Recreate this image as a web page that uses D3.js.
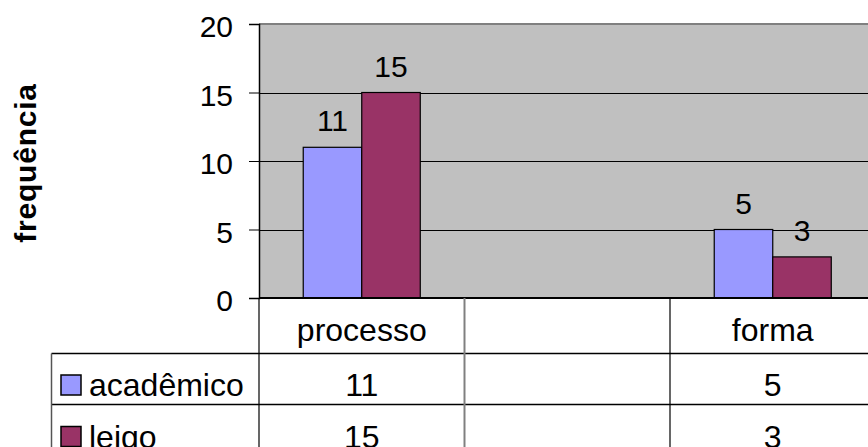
<!DOCTYPE html>
<html>
<head>
<meta charset="utf-8">
<script src="https://cdn.jsdelivr.net/npm/d3@7"></script>
<style>
  html, body { margin: 0; padding: 0; background: #fff; }
  svg { display: block; }
  text { font-family: "Liberation Sans", Arial, sans-serif; fill: #000; }
</style>
</head>
<body>
<script>
// Categories (the middle one is an empty column) and the two series
const categories = ["processo", "", "forma"];
const seriesNames = ["acadêmico", "leigo"];
const academico = [11, null, 5];
const leigo = [15, null, 3];
const seriesColors = ["#9999FF", "#993366"];
const yTicks = [0, 5, 10, 15, 20];
const yTitle = "frequência";

const W = 868, H = 447;
const plot = { left: 259, top: 24, bottom: 298, right: 875.5 };
const tableLeft = 51.5;
const rowLines = [353.5, 404.5];

const svg = d3.select("body").append("svg").attr("width", W).attr("height", H);

const y = d3.scaleLinear().domain([0, 20]).range([plot.bottom, plot.top]);
const x0 = d3.scaleBand().domain(categories).range([plot.left, plot.right]).paddingInner(0).paddingOuter(0);
const x1 = d3.scaleBand().domain(seriesNames).range([0, x0.bandwidth()]).paddingInner(0).paddingOuter(0.756);

// plot area background
svg.append("rect")
  .attr("x", plot.left).attr("y", plot.top)
  .attr("width", plot.right - plot.left).attr("height", plot.bottom - plot.top)
  .attr("fill", "#C0C0C0");

// top border of the plot area
svg.append("line")
  .attr("x1", plot.left).attr("x2", plot.right)
  .attr("y1", plot.top).attr("y2", plot.top)
  .attr("stroke", "#808080").attr("stroke-width", 2);

// horizontal gridlines
svg.append("g").selectAll("line")
  .data(yTicks.filter(t => t > 0 && t < 20))
  .join("line")
  .attr("x1", plot.left).attr("x2", plot.right)
  .attr("y1", d => Math.round(y(d)) + 0.5).attr("y2", d => Math.round(y(d)) + 0.5)
  .attr("stroke", "#000").attr("stroke-width", 1);

// bars
const series = [academico, leigo];
series.forEach((vals, si) => {
  const name = seriesNames[si];
  const data = categories.map((c, i) => ({ c, v: vals[i] })).filter(d => d.v != null);
  svg.append("g").selectAll("rect")
    .data(data)
    .join("rect")
    .attr("x", d => x0(d.c) + x1(name))
    .attr("y", d => y(d.v))
    .attr("width", x1.bandwidth())
    .attr("height", d => y(0) - y(d.v))
    .attr("fill", seriesColors[si])
    .attr("stroke", "#000").attr("stroke-width", 1.2);

  // value labels above bars
  svg.append("g").selectAll("text")
    .data(data)
    .join("text")
    .attr("x", d => x0(d.c) + x1(name) + x1.bandwidth() / 2)
    .attr("y", d => y(d.v) - 16)
    .attr("text-anchor", "middle")
    .attr("font-size", 30)
    .text(d => d.v);
});

// y axis
const yAxis = d3.axisLeft(y).tickValues(yTicks).tickSize(10).tickPadding(16);
const gy = svg.append("g").attr("transform", `translate(${plot.left},0)`).call(yAxis);
gy.select(".domain").attr("stroke", "#000").attr("stroke-width", 1.5);
gy.selectAll(".tick line").attr("stroke", "#000");
gy.selectAll(".tick text")
  .attr("font-size", 30)
  .attr("font-family", "Liberation Sans, Arial, sans-serif")
  .attr("fill", "#000")
  .attr("dy", "0.42em");

// y axis title
svg.append("text")
  .attr("transform", `translate(36,163) rotate(-90)`)
  .attr("text-anchor", "middle")
  .attr("font-size", 30)
  .attr("font-weight", "bold")
  .attr("letter-spacing", 0.8)
  .text(yTitle);

// x axis baseline
svg.append("line")
  .attr("x1", plot.left).attr("x2", plot.right)
  .attr("y1", plot.bottom).attr("y2", plot.bottom)
  .attr("stroke", "#000").attr("stroke-width", 2);

// data table: row separators
svg.append("g").selectAll("line")
  .data(rowLines)
  .join("line")
  .attr("x1", tableLeft).attr("x2", W)
  .attr("y1", d => d).attr("y2", d => d)
  .attr("stroke", "#000").attr("stroke-width", 1.5);

// data table: left edge
svg.append("line")
  .attr("x1", tableLeft).attr("x2", tableLeft)
  .attr("y1", rowLines[0]).attr("y2", H)
  .attr("stroke", "#555").attr("stroke-width", 1.5);

// data table: column separators at category boundaries
const boundaries = categories.map(c => x0(c));
svg.append("g").selectAll("line")
  .data(boundaries)
  .join("line")
  .attr("x1", d => d).attr("x2", d => d)
  .attr("y1", plot.bottom).attr("y2", H)
  .attr("stroke", (d, i) => i === 1 ? "#808080" : "#000")
  .attr("stroke-width", (d, i) => i === 1 ? 2 : 1.2);

// data table: category header row
svg.append("g").selectAll("text")
  .data(categories)
  .join("text")
  .attr("x", d => x0(d) + x0.bandwidth() / 2)
  .attr("y", 341)
  .attr("text-anchor", "middle")
  .attr("font-size", 32)
  .text(d => d);

// data table: value rows with legend keys
const rowBaselines = [396, 447.5];
series.forEach((vals, si) => {
  const base = rowBaselines[si];
  svg.append("rect")
    .attr("x", 61).attr("y", base - 21)
    .attr("width", 20).attr("height", 20)
    .attr("fill", seriesColors[si])
    .attr("stroke", "#000").attr("stroke-width", 1.5);
  svg.append("text")
    .attr("x", 89).attr("y", base)
    .attr("font-size", 32)
    .text(seriesNames[si]);
  svg.append("g").selectAll("text")
    .data(categories.map((c, i) => ({ c, v: vals[i] })).filter(d => d.v != null))
    .join("text")
    .attr("x", d => x0(d.c) + x0.bandwidth() / 2)
    .attr("y", base)
    .attr("text-anchor", "middle")
    .attr("font-size", 32)
    .text(d => d.v);
});
</script>
</body>
</html>
